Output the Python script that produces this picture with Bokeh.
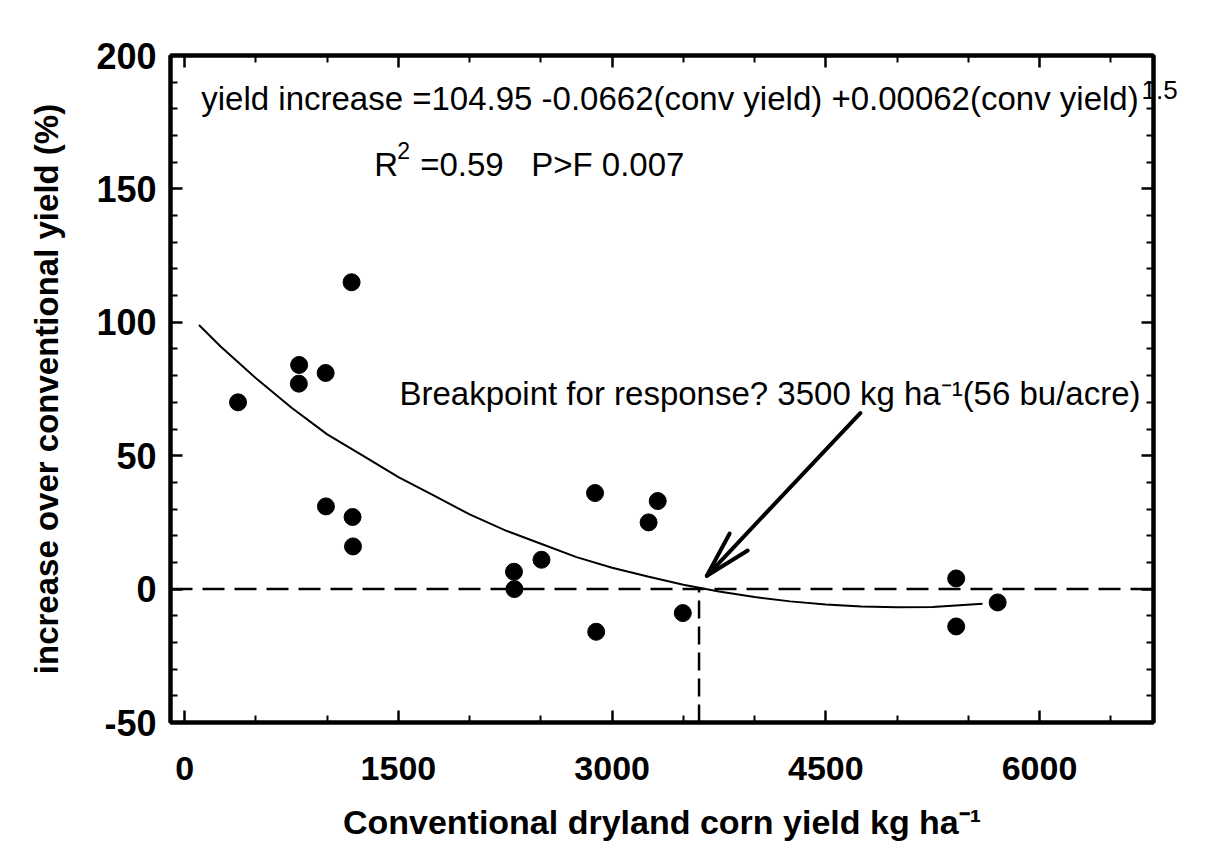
import math
from bokeh.plotting import figure
from bokeh.models import (Range1d, FixedTicker, LinearAxis, Span, Label,
                          CustomJSTickFormatter)
from bokeh.embed import file_html
from bokeh.resources import INLINE

# ---- data ----
conv_yield = [374, 801, 803, 989, 1171, 991, 1178, 1181, 2311, 2314, 2504,
              2880, 2888, 3256, 3320, 3496, 5415, 5415, 5706]
yield_increase = [70, 77, 84, 81, 115, 31, 27, 16, 6.5, 0, 11,
                  36, -16, 25, 33, -9, 4, -14, -5]

curve_x = [100, 250, 500, 750, 1000, 1250, 1500, 1750, 2000, 2250, 2500,
           2750, 3000, 3250, 3500, 3750, 4000, 4250, 4500, 4750, 5000,
           5250, 5600]
curve_y = [99, 91, 79, 68, 58, 50, 42, 35, 28, 22, 17,
           12, 8, 4.7, 1.6, -0.9, -3, -4.6, -5.8, -6.5, -6.8,
           -6.7, -5.5]

x_ticks = [0, 1500, 3000, 4500, 6000]
x_minor = [500, 1000, 2000, 2500, 3500, 4000, 5000, 5500, 6500]
y_ticks = [-50, 0, 50, 100, 150, 200]
y_minor = [v for v in range(-50, 201, 10) if v % 50]

x_lim = (-100, 6800)
y_lim = (-50, 200)
breakpoint_x = 3610
arrow_tail = (4742, 66)
arrow_tip = (3665, 5)

eq_text = "yield increase =104.95 -0.0662(conv yield) +0.00062(conv yield)"
eq_exp = "1.5"
eq_exp_y = 187
eq_pos = (116, 184)
r2_pos = (1330, 159)
r2_rest = "=0.59\u00a0\u00a0\u00a0P>F 0.007"
bp_text = "Breakpoint for response? 3500 kg ha\u207b\u00b9(56 bu/acre)"
bp_pos = (1507, 73.5)

# ---- layout ----
W, H = 1190, 850
BL, BR, BT, BB = 170, 37, 55, 128
FONT = "Liberation Sans"

p = figure(width=W, height=H, x_range=Range1d(*x_lim), y_range=Range1d(*y_lim),
           output_backend="svg", toolbar_location=None,
           min_border_left=BL, min_border_right=BR,
           min_border_top=BT, min_border_bottom=BB)
p.grid.visible = False
p.outline_line_color = "black"
p.outline_line_width = 4

xt = FixedTicker(ticks=x_ticks, minor_ticks=x_minor)
yt = FixedTicker(ticks=y_ticks, minor_ticks=y_minor)
plain = CustomJSTickFormatter(code="return String(tick)")
blank = "return ''"


def style(ax):
    ax.axis_line_width = 4
    ax.axis_line_color = "black"
    ax.major_tick_in = 12
    ax.major_tick_out = 0
    ax.minor_tick_in = 7
    ax.minor_tick_out = 0
    ax.major_tick_line_width = 2.5
    ax.minor_tick_line_width = 2
    ax.major_label_text_font = FONT
    ax.major_label_text_font_style = "bold"
    ax.major_label_text_color = "black"
    ax.axis_label_text_font = FONT
    ax.axis_label_text_font_style = "bold"
    ax.axis_label_text_color = "black"


xa = p.xaxis[0]
xa.ticker = xt
xa.formatter = plain
style(xa)
xa.major_label_text_font_size = "34px"
xa.major_label_standoff = 34
xa.axis_label = "Conventional dryland corn yield kg ha\u207b\u00b9"
xa.axis_label_text_font_size = "34px"
xa.axis_label_standoff = 20

ya = p.yaxis[0]
ya.ticker = yt
ya.formatter = plain
style(ya)
ya.major_label_text_font_size = "36px"
ya.major_label_standoff = 14
ya.axis_label = "increase over conventional yield (%)"
ya.axis_label_text_font_size = "33px"
ya.axis_label_standoff = 28

top = LinearAxis(ticker=xt, formatter=CustomJSTickFormatter(code=blank))
style(top)
p.add_layout(top, "above")

right = LinearAxis(ticker=yt, formatter=CustomJSTickFormatter(code=blank))
style(right)
right.major_label_standoff = 0
p.add_layout(right, "right")

# the "1.5" exponent of the equation, which sits across the right frame line
exp_axis = LinearAxis(ticker=FixedTicker(ticks=[eq_exp_y], minor_ticks=[]),
                      formatter=CustomJSTickFormatter(args=dict(txt=eq_exp),
                                                      code="return txt"))
exp_axis.axis_line_color = None
exp_axis.major_tick_in = 0
exp_axis.major_tick_out = 0
exp_axis.minor_tick_in = 0
exp_axis.minor_tick_out = 0
exp_axis.major_label_text_font = FONT
exp_axis.major_label_text_font_size = "26px"
exp_axis.major_label_text_color = "black"
exp_axis.major_label_standoff = -12
p.add_layout(exp_axis, "right")

# reference lines
p.add_layout(Span(location=0, dimension="width", line_color="black",
                  line_width=2.5, line_dash="22 10"))
p.segment(x0=[breakpoint_x], y0=[y_lim[0]], x1=[breakpoint_x], y1=[0],
          line_color="black", line_width=2.5, line_dash="18 8")

# fitted curve and data
p.line(curve_x, curve_y, line_color="black", line_width=2)
p.scatter(conv_yield, yield_increase, size=17, color="black")

# arrow (shaft + open head computed in screen space)
fw = W - BL - BR
fh = H - BT - BB
sx = fw / (x_lim[1] - x_lim[0])
sy = fh / (y_lim[1] - y_lim[0])
ux = (arrow_tip[0] - arrow_tail[0]) * sx
uy = (arrow_tip[1] - arrow_tail[1]) * sy
n = math.hypot(ux, uy)
bx, by = -ux / n, -uy / n
head_len, ang = 48, math.radians(15)
hx, hy = [], []
for s in (1, -1):
    rx = bx * math.cos(s * ang) - by * math.sin(s * ang)
    ry = bx * math.sin(s * ang) + by * math.cos(s * ang)
    hx.append(arrow_tip[0] + head_len * rx / sx)
    hy.append(arrow_tip[1] + head_len * ry / sy)
p.segment(x0=[arrow_tail[0], arrow_tip[0], arrow_tip[0]],
          y0=[arrow_tail[1], arrow_tip[1], arrow_tip[1]],
          x1=[arrow_tip[0], hx[0], hx[1]],
          y1=[arrow_tip[1], hy[0], hy[1]],
          line_color="black", line_width=4, line_cap="round")


def lab(x, y, text, size="33px", xo=0, yo=0, align="left"):
    p.add_layout(Label(x=x, y=y, text=text, x_offset=xo, y_offset=yo,
                       text_font=FONT, text_font_size=size,
                       text_color="black", text_align=align,
                       text_baseline="alphabetic"))


lab(eq_pos[0], eq_pos[1], eq_text)
lab(r2_pos[0], r2_pos[1], "R")
lab(r2_pos[0], r2_pos[1], "2", size="23px", xo=23, yo=14)
lab(r2_pos[0], r2_pos[1], r2_rest, xo=46)
lab(bp_pos[0], bp_pos[1], bp_text)

open("out.html", "w").write(file_html(p, INLINE))
